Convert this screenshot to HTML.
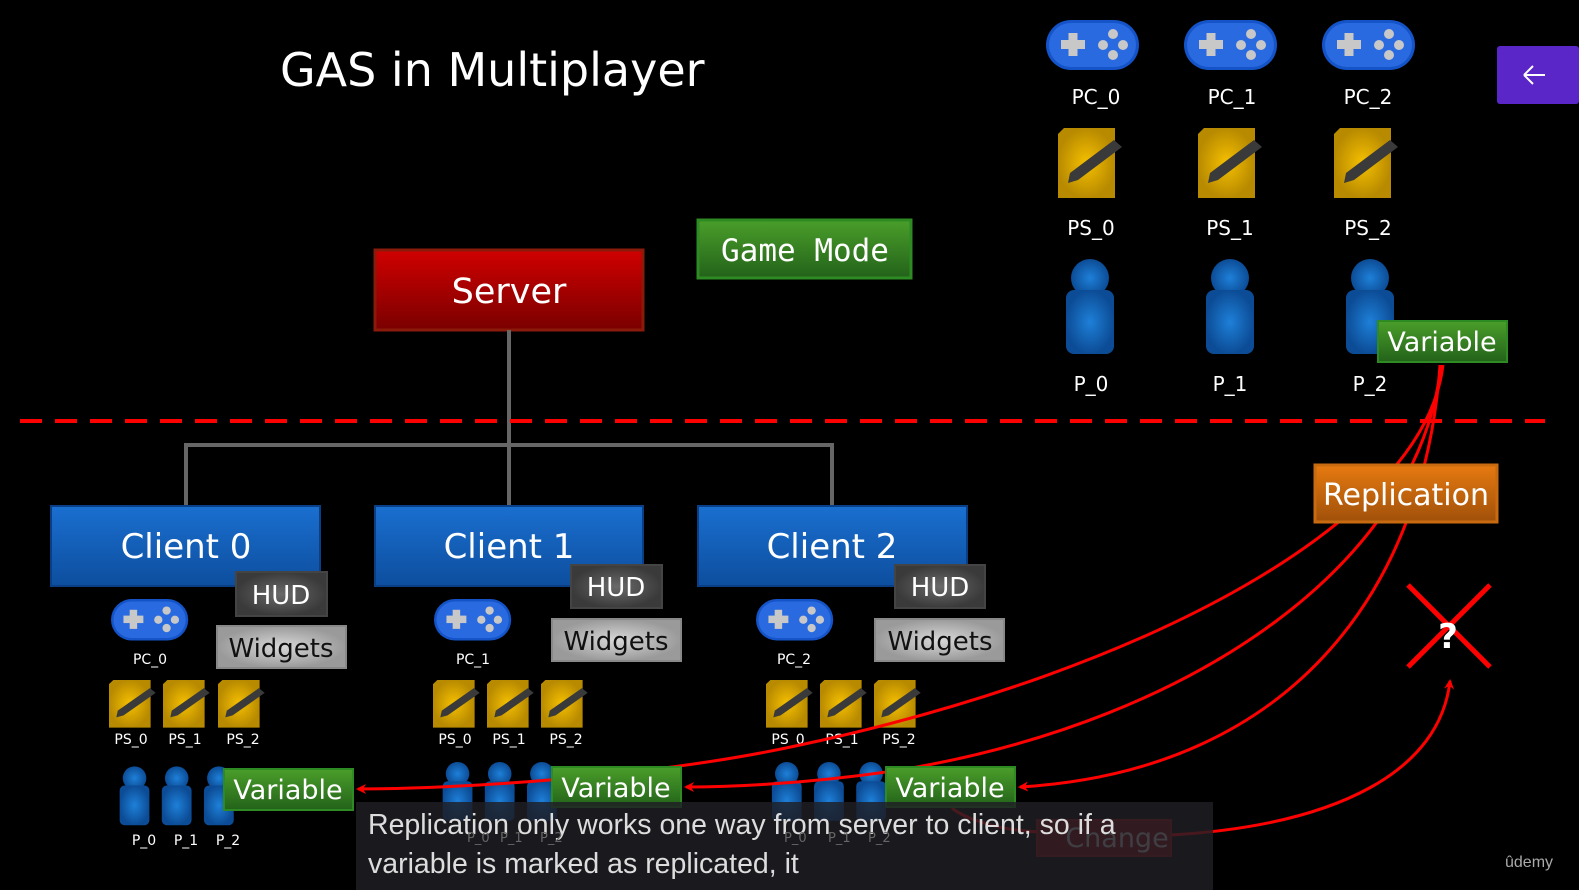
<!DOCTYPE html>
<html><head><meta charset="utf-8"><style>
html,body{margin:0;padding:0;background:#000;width:1579px;height:890px;overflow:hidden}
svg{display:block}
text{font-family:"DejaVu Sans","Liberation Sans",sans-serif}
</style></head><body>
<svg width="1579" height="890" viewBox="0 0 1579 890" xmlns="http://www.w3.org/2000/svg">
<defs>
<linearGradient id="red" x1="0" y1="0" x2="0" y2="1"><stop offset="0" stop-color="#d00000"/><stop offset="1" stop-color="#7a0000"/></linearGradient>
<linearGradient id="blue" x1="0" y1="0" x2="0" y2="1"><stop offset="0" stop-color="#1a6fd0"/><stop offset="1" stop-color="#0d4e9e"/></linearGradient>
<linearGradient id="green" x1="0" y1="0" x2="0" y2="1"><stop offset="0" stop-color="#4a9e2a"/><stop offset="1" stop-color="#23621a"/></linearGradient>
<linearGradient id="orange" x1="0" y1="0" x2="0" y2="1"><stop offset="0" stop-color="#e67a10"/><stop offset="1" stop-color="#a0500a"/></linearGradient>
<radialGradient id="dgray"><stop offset="0" stop-color="#6a6a6a"/><stop offset="1" stop-color="#3a3a3a"/></radialGradient>
<radialGradient id="lgray"><stop offset="0" stop-color="#d8d8d8"/><stop offset="1" stop-color="#9a9a9a"/></radialGradient>
<radialGradient id="yel"><stop offset="0" stop-color="#f5c000"/><stop offset="1" stop-color="#b88a00"/></radialGradient>
<radialGradient id="pb"><stop offset="0" stop-color="#1e80d8"/><stop offset="1" stop-color="#0c4c96"/></radialGradient>
<g id="pad">
<rect x="0" y="0" width="93" height="50" rx="25" fill="#1454c8"/>
<rect x="3" y="3" width="87" height="44" rx="22" fill="#2a6ae0"/>
<rect x="15" y="20" width="24" height="9" fill="#c8c8c8"/><rect x="22.5" y="13" width="9" height="23" fill="#c8c8c8"/>
<circle cx="67" cy="14" r="5" fill="#c8c8c8"/><circle cx="67" cy="35" r="5" fill="#c8c8c8"/><circle cx="57" cy="25" r="5" fill="#c8c8c8"/><circle cx="77" cy="25" r="5" fill="#c8c8c8"/>
</g>
<g id="ps">
<path d="M6,0 H57 V70 H0 V6 Z" fill="url(#yel)"/>
<path d="M12,45 L56,12 L64,19 L20,52 L10,55 Z" fill="#3a3a3a"/>
</g>
<g id="pawn">
<circle cx="24" cy="18" r="19" fill="url(#pb)"/>
<rect x="0" y="30" width="48" height="64" rx="8" fill="url(#pb)"/>
</g>
<marker id="ah" markerWidth="10" markerHeight="10" refX="8" refY="5" orient="auto" markerUnits="userSpaceOnUse"><path d="M0,0 L10,5 L0,10 L3,5 Z" fill="#f00"/></marker>
</defs>

<text x="280" y="86" font-size="46" fill="#fff">GAS in Multiplayer</text>

<rect x="1497" y="46" width="82" height="58" rx="3" fill="#5a26c8"/>
<path d="M1524,75 H1545 M1524,75 L1533,66 M1524,75 L1533,84" stroke="#fff" stroke-width="2" fill="none"/>

<use href="#pad" x="1046" y="20"/><use href="#pad" x="1184" y="20"/><use href="#pad" x="1322" y="20"/>
<g font-size="20" fill="#fff" text-anchor="middle">
<text x="1096" y="104">PC_0</text><text x="1232" y="104">PC_1</text><text x="1368" y="104">PC_2</text>
<text x="1091" y="235">PS_0</text><text x="1230" y="235">PS_1</text><text x="1368" y="235">PS_2</text>
<text x="1091" y="391">P_0</text><text x="1230" y="391">P_1</text><text x="1370" y="391">P_2</text>
</g>
<use href="#ps" x="1058" y="128"/><use href="#ps" x="1198" y="128"/><use href="#ps" x="1334" y="128"/>
<use href="#pawn" x="1066" y="260"/><use href="#pawn" x="1206" y="260"/><use href="#pawn" x="1346" y="260"/>

<rect x="375" y="250" width="268" height="80" fill="url(#red)" stroke="#8a1a0a" stroke-width="3"/>
<text x="509" y="303" font-size="35" fill="#fff" text-anchor="middle">Server</text>
<rect x="698" y="220" width="213" height="58" fill="url(#green)" stroke="#2e8a22" stroke-width="3"/>
<text x="805" y="261" font-size="31" fill="#fff" text-anchor="middle" style="font-family:'DejaVu Sans Mono','Liberation Mono',monospace">Game Mode</text>

<g stroke="#666" stroke-width="4" fill="none">
<path d="M509,330 V505 M186,505 V445 H832 V505"/>
</g>
<line x1="20" y1="421" x2="1545" y2="421" stroke="#f00" stroke-width="4" stroke-dasharray="22,13"/>

<g font-size="34" fill="#fff" text-anchor="middle">
<rect x="51" y="506" width="269" height="80" fill="url(#blue)" stroke="#0a3f86" stroke-width="2"/><text x="186" y="558">Client 0</text>
<rect x="375" y="506" width="268" height="80" fill="url(#blue)" stroke="#0a3f86" stroke-width="2"/><text x="509" y="558">Client 1</text>
<rect x="698" y="506" width="269" height="80" fill="url(#blue)" stroke="#0a3f86" stroke-width="2"/><text x="832" y="558">Client 2</text>
</g>
<g font-size="26" text-anchor="middle">
<rect x="236" y="572" width="91" height="44" fill="url(#dgray)" stroke="#444" stroke-width="2"/><text x="281" y="604" fill="#fff">HUD</text>
<rect x="571" y="565" width="91" height="43" fill="url(#dgray)" stroke="#444" stroke-width="2"/><text x="616" y="596" fill="#fff">HUD</text>
<rect x="895" y="565" width="90" height="43" fill="url(#dgray)" stroke="#444" stroke-width="2"/><text x="940" y="596" fill="#fff">HUD</text>
<rect x="217" y="626" width="129" height="42" fill="url(#lgray)" stroke="#888" stroke-width="2"/><text x="281" y="657" fill="#111">Widgets</text>
<rect x="552" y="619" width="129" height="42" fill="url(#lgray)" stroke="#888" stroke-width="2"/><text x="616" y="650" fill="#111">Widgets</text>
<rect x="875" y="619" width="129" height="42" fill="url(#lgray)" stroke="#888" stroke-width="2"/><text x="940" y="650" fill="#111">Widgets</text>
</g>

<g transform="translate(111,599) scale(0.83)"><use href="#pad"/></g>
<g transform="translate(434,599) scale(0.83)"><use href="#pad"/></g>
<g transform="translate(756,599) scale(0.83)"><use href="#pad"/></g>
<g font-size="14" fill="#fff" text-anchor="middle">
<text x="150" y="664">PC_0</text><text x="473" y="664">PC_1</text><text x="794" y="664">PC_2</text>
<text x="131" y="744">PS_0</text><text x="185" y="744">PS_1</text><text x="243" y="744">PS_2</text>
<text x="455" y="744">PS_0</text><text x="509" y="744">PS_1</text><text x="566" y="744">PS_2</text>
<text x="788" y="744">PS_0</text><text x="842" y="744">PS_1</text><text x="899" y="744">PS_2</text>
<text x="144" y="845">P_0</text><text x="186" y="845">P_1</text><text x="228" y="845">P_2</text>
</g>
<g transform="translate(109,680) scale(0.73,0.68)"><use href="#ps"/></g>
<g transform="translate(163,680) scale(0.73,0.68)"><use href="#ps"/></g>
<g transform="translate(218,680) scale(0.73,0.68)"><use href="#ps"/></g>
<g transform="translate(433,680) scale(0.73,0.68)"><use href="#ps"/></g>
<g transform="translate(487,680) scale(0.73,0.68)"><use href="#ps"/></g>
<g transform="translate(541,680) scale(0.73,0.68)"><use href="#ps"/></g>
<g transform="translate(766,680) scale(0.73,0.68)"><use href="#ps"/></g>
<g transform="translate(820,680) scale(0.73,0.68)"><use href="#ps"/></g>
<g transform="translate(874,680) scale(0.73,0.68)"><use href="#ps"/></g>
<g transform="scale(0.62)">
<use href="#pawn" x="193" y="1237"/><use href="#pawn" x="261" y="1237"/><use href="#pawn" x="329" y="1237"/>
<use href="#pawn" x="714" y="1230"/><use href="#pawn" x="782" y="1230"/><use href="#pawn" x="850" y="1230"/>
<use href="#pawn" x="1245" y="1230"/><use href="#pawn" x="1313" y="1230"/><use href="#pawn" x="1381" y="1230"/>
</g>

<g stroke="#f00" stroke-width="3" fill="none">
<path d="M1443,365 C1425,520 1150,670 800,745 C650,778 450,789 358,789" marker-end="url(#ah)"/>
<path d="M1441,365 C1420,560 1200,720 900,770 C800,785 720,787 686,787" marker-end="url(#ah)"/>
<path d="M1440,365 C1425,580 1300,770 1020,787" marker-end="url(#ah)"/>
<path d="M1171,835 C1340,825 1440,770 1450,681" marker-end="url(#ah)"/>
<path d="M1040,832 C990,830 960,815 952,808"/>
</g>

<g font-size="27" fill="#fff" text-anchor="middle">
<rect x="1378" y="321" width="129" height="41" fill="url(#green)" stroke="#2e8a22" stroke-width="2"/><text x="1442" y="351">Variable</text>
<rect x="224" y="769" width="129" height="41" fill="url(#green)" stroke="#2e8a22" stroke-width="2"/><text x="288" y="799">Variable</text>
<rect x="552" y="767" width="129" height="40" fill="url(#green)" stroke="#2e8a22" stroke-width="2"/><text x="616" y="797">Variable</text>
<rect x="886" y="767" width="129" height="40" fill="url(#green)" stroke="#2e8a22" stroke-width="2"/><text x="950" y="797">Variable</text>
</g>

<rect x="1315" y="465" width="182" height="57" fill="url(#orange)" stroke="#c86a10" stroke-width="3"/>
<text x="1406" y="505" font-size="30" fill="#fff" text-anchor="middle">Replication</text>

<g stroke="#f00" stroke-width="5"><line x1="1408" y1="585" x2="1490" y2="667"/><line x1="1490" y1="585" x2="1408" y2="667"/></g>
<text x="1448" y="648" font-size="34" fill="#fff" text-anchor="middle" font-weight="bold">?</text>

<rect x="1037" y="820" width="134" height="36" fill="#8a0c0c" stroke="#a01010" stroke-width="2"/>
<text x="1117" y="847" font-size="27" fill="#ccc" text-anchor="middle">Change</text>

<rect x="356" y="802" width="857" height="88" fill="rgba(30,30,36,0.82)"/>
<g font-size="28.5" fill="#ddd">
<text x="368" y="834" style="font-family:'Liberation Sans',Arial,sans-serif">Replication only works one way from server to client, so if a</text>
<text x="368" y="873" style="font-family:'Liberation Sans',Arial,sans-serif">variable is marked as replicated, it</text>
</g>
<g font-size="13" fill="#666" style="font-family:'Liberation Sans',sans-serif">
<text x="467" y="842">P_0</text><text x="500" y="842">P_1</text><text x="540" y="842">P_2</text>
<text x="784" y="842">P_0</text><text x="828" y="842">P_1</text><text x="868" y="842">P_2</text>
</g>
<text x="1505" y="867" font-size="16" fill="#aaa" style="font-family:'Liberation Sans',sans-serif">ûdemy</text>
</svg>
</body></html>
